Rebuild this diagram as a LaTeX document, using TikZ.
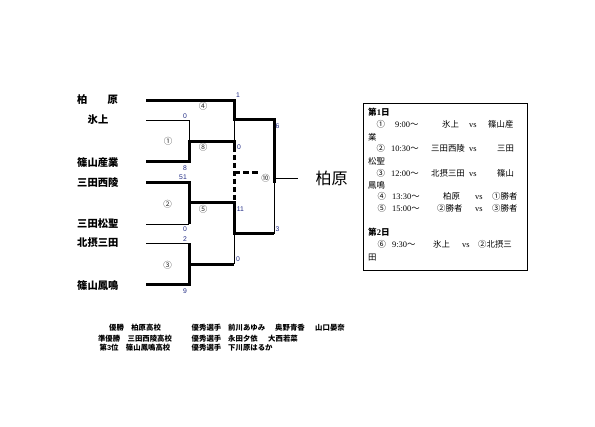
\documentclass[tikz,border=0pt]{standalone}
\usepackage{fontspec}
\setmainfont{Liberation Serif}
\newfontfamily\jp{Noto Sans CJK JP}
\newfontfamily\lsans{Liberation Sans}
\definecolor{numblue}{RGB}{30,40,130}
\begin{document}
\begin{tikzpicture}[x=1pt,y=-1pt,
  win/.style={line width=3pt, line join=miter},
  lose/.style={line width=0.9pt},
  dashline/.style={line width=3pt, dash pattern=on 5pt off 3pt},
  num/.style={font=\lsans\fontsize{6.8}{7}\selectfont, text=numblue, inner sep=0pt},
  circ/.style={font=\jp\fontsize{8.5}{9}\selectfont, inner sep=0pt, text=black!80},
  team/.style={font=\jp\bfseries\fontsize{10.3}{11}\selectfont, inner sep=0pt, anchor=west},
  boxtxt/.style={font=\jp\fontsize{8.4}{10}\selectfont, inner sep=0pt, anchor=base west, yshift=-3pt},
  boxhead/.style={font=\jp\bfseries\fontsize{8.6}{10}\selectfont, inner sep=0pt, anchor=base west, yshift=-3pt},
  foot/.style={font=\jp\bfseries\fontsize{7.4}{8}\selectfont, inner sep=0pt},
  champ/.style={font=\jp\fontsize{16}{18}\selectfont, inner sep=0pt}
]
\useasboundingbox (0,0) rectangle (595,427);

% team labels
\node[team] (t1a) at (77,100) {柏};
\node[team] (t1b) at (107.5,100) {原};
\node[team, anchor=center] (t2) at (98,120) {氷上};
\node[team] (t3) at (77,162.5) {篠山産業};
\node[team] (t4) at (77,183) {三田西陵};
\node[team] (t5) at (77,224) {三田松聖};
\node[team] (t6) at (77,243) {北摂三田};
\node[team] (t7) at (77,285.5) {篠山鳳鳴};

% bracket coordinates
\coordinate (a1) at (146,101);  \coordinate (a2) at (234,101);
\coordinate (a3) at (234,120);  \coordinate (a4) at (274,120);
\coordinate (a5) at (274,183);
\coordinate (b1) at (146,120.5);\coordinate (b2) at (189,120.5);
\coordinate (b3) at (189,141.5);\coordinate (b4) at (234,141.5);
\coordinate (b5) at (234,147);
\coordinate (c1) at (146,162);  \coordinate (c2) at (189,162);
\coordinate (d1) at (146,182.5);\coordinate (d2) at (189,182.5);
\coordinate (d3) at (189,203);  \coordinate (d4) at (234,203);
\coordinate (d5) at (234,234);  \coordinate (d6) at (274,234);
\coordinate (e1) at (146,224);  \coordinate (e2) at (189,224);
\coordinate (f1) at (146,243);  \coordinate (f2) at (189,243);
\coordinate (g1) at (146,285);  \coordinate (g2) at (189,285);
\coordinate (g3) at (189,264.5);\coordinate (g4) at (234,264.5);
\coordinate (h1) at (234,173);  \coordinate (h2) at (258,173);
\coordinate (k1) at (274,178);  \coordinate (k2) at (298,178);

% winning (thick) lines
\draw[win] (a1) -- (a2) -- (a3) -- (a4) -- (a5);
\draw[win] (c1) -- (c2) -- (b3) -- (b4) -- (b5);
\draw[win] (d1) -- (d2) -- (d3) -- (d4) -- (d5) -- (d6);
\draw[win] (d3) -- (e2);
\draw[win] (g1) -- (g2) -- (f2);
\draw[win] (g3) -- (g4);
% thin lines
\draw[lose] (b1) -- (b2) -- (b3);
\draw[lose] (a3) -- (b4);
\draw[lose] (e1) -- (e2);
\draw[lose] (f1) -- (f2);
\draw[lose] (d5) -- (g4);
\draw[lose] (a5) -- (d6);
\draw[lose] (k1) -- (k2);
% dashed
\draw[dashline] (b5) -- (d4);
\draw[dashline, dash pattern=on 6pt off 3pt] (h1) -- (h2);

% scores
\node[num] (s1) at (238,95) {1};
\node[num] (s2) at (185,116) {0};
\node[num] (s3) at (185,168) {8};
\node[num] (s4) at (239,147) {0};
\node[num] (s5) at (277.5,126) {6};
\node[num] (s6) at (183,177.5) {51};
\node[num] (s7) at (185,229) {0};
\node[num] (s8) at (185,239) {2};
\node[num] (s9) at (185,291.5) {9};
\node[num] (s10) at (240.5,209) {11};
\node[num] (s11) at (238,259) {0};
\node[num] (s12) at (277.5,229) {3};

% match numbers
\node[circ] (m1) at (168,141.5) {①};
\node[circ] (m2) at (167.5,204) {②};
\node[circ] (m3) at (167.5,265) {③};
\node[circ] (m4) at (203,106) {④};
\node[circ] (m8) at (203,147.5) {⑧};
\node[circ] (m5) at (203,209.5) {⑤};
\node[circ] (m10) at (265.5,178) {⑩};

% champion
\node[champ] (ch) at (331.5,178) {柏原};

% schedule box
\draw[line width=0.8pt] (363,103) rectangle (527,270);
\node[boxhead] (h1t) at (368,112.7) {第{\rmfamily\bfseries 1}日};
\node[boxtxt] (r1a) at (376.5,125) {①};
\node[boxtxt] (r1b) at (395,125) {{\rmfamily 9:00}～};
\node[boxtxt] (r1c) at (442,125) {氷上};
\node[boxtxt] (r1d) at (469,125) {\rmfamily vs};
\node[boxtxt] (r1e) at (488,125) {篠山産};
\node[boxtxt] (r1f) at (368,137.5) {業};
\node[boxtxt] (r2a) at (376.5,149) {②};
\node[boxtxt] (r2b) at (391,149) {{\rmfamily 10:30}～};
\node[boxtxt] (r2c) at (431,149) {三田西陵};
\node[boxtxt] (r2d) at (469,149) {\rmfamily vs};
\node[boxtxt] (r2e) at (497,149) {三田};
\node[boxtxt] (r2f) at (368,161.7) {松聖};
\node[boxtxt] (r3a) at (376.5,174) {③};
\node[boxtxt] (r3b) at (391,174) {{\rmfamily 12:00}～};
\node[boxtxt] (r3c) at (431,174) {北摂三田};
\node[boxtxt] (r3d) at (469,174) {\rmfamily vs};
\node[boxtxt] (r3e) at (497,174) {篠山};
\node[boxtxt] (r3f) at (368,185.5) {鳳鳴};
\node[boxtxt] (r4a) at (377.5,196.7) {④};
\node[boxtxt] (r4b) at (392,196.7) {{\rmfamily 13:30}～};
\node[boxtxt] (r4c) at (443,196.7) {柏原};
\node[boxtxt] (r4d) at (475,196.7) {\rmfamily vs};
\node[boxtxt] (r4e) at (492,196.7) {①勝者};
\node[boxtxt] (r5a) at (377.5,208.3) {⑤};
\node[boxtxt] (r5b) at (392,208.3) {{\rmfamily 15:00}～};
\node[boxtxt] (r5c) at (437,208.3) {②勝者};
\node[boxtxt] (r5d) at (475,208.3) {\rmfamily vs};
\node[boxtxt] (r5e) at (492,208.3) {③勝者};
\node[boxhead] (h2t) at (368,232.7) {第{\rmfamily\bfseries 2}日};
\node[boxtxt] (r6a) at (377.5,245) {⑥};
\node[boxtxt] (r6b) at (392,245) {{\rmfamily 9:30}～};
\node[boxtxt] (r6c) at (433,245) {氷上};
\node[boxtxt] (r6d) at (462,245) {\rmfamily vs};
\node[boxtxt] (r6e) at (478,245) {②北摂三};
\node[boxtxt] (r6f) at (368,258) {田};

% results
\node[foot] (f1) at (135,327.7) {優勝　柏原高校};
\node[foot] (f2) at (135,338.3) {準優勝　三田西陵高校};
\node[foot] (f3) at (135,347.9) {第{\lsans\bfseries 3}位　篠山鳳鳴高校};
\node[foot, anchor=west] (p1a) at (191.5,327.7) {優秀選手};
\node[foot, anchor=west] (p1b) at (228,327.7) {前川あゆみ};
\node[foot, anchor=west] (p1c) at (275,327.7) {奥野青香};
\node[foot, anchor=west] (p1d) at (315,327.7) {山口晏奈};
\node[foot, anchor=west] (p2a) at (191.5,338.3) {優秀選手};
\node[foot, anchor=west] (p2b) at (228,338.3) {永田夕依};
\node[foot, anchor=west] (p2c) at (268,338.3) {大西若菜};
\node[foot, anchor=west] (p3a) at (191.5,347.9) {優秀選手};
\node[foot, anchor=west] (p3b) at (228,347.9) {下川原はるか};
\end{tikzpicture}
\end{document}
